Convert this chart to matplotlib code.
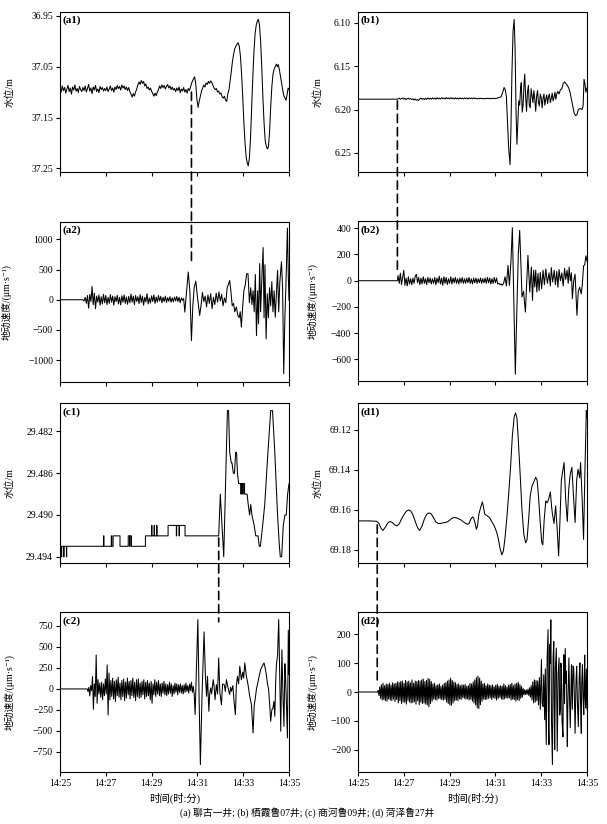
import numpy as np
import matplotlib
matplotlib.use('Agg')
import matplotlib.pyplot as plt
from matplotlib.patches import ConnectionPatch

plt.rcParams['font.family'] = ['Liberation Serif', 'Noto Sans CJK SC', 'DejaVu Sans']
plt.rcParams['axes.unicode_minus'] = True

# ---------------- data (time in minutes after 14:25) ----------------
tick_pos = [0, 2, 4, 6, 8, 10]
tick_labels = ['14:25', '14:27', '14:29', '14:31', '14:33', '14:35']
panel_names = ['(a1)', '(a2)', '(b1)', '(b2)', '(c1)', '(c2)', '(d1)', '(d2)']
caption = '(a) 聊古一井; (b) 栖霞鲁07井; (c) 商河鲁09井; (d) 菏泽鲁27井'

# (a1) water level, m
a1_noise_span = (0.0, 5.65)
a1_noise = [37.093, 37.100, 37.088, 37.097, 37.091, 37.102, 37.094, 37.087, 37.099, 37.092, 37.104, 37.090, 37.096, 37.086, 37.098, 37.093, 37.101, 37.089, 37.095, 37.099, 37.091,
            37.097, 37.088, 37.100, 37.093, 37.085, 37.098, 37.092, 37.103, 37.090, 37.096, 37.087, 37.099, 37.094, 37.101, 37.089, 37.095, 37.091, 37.098, 37.093, 37.097,
            37.090, 37.099, 37.094, 37.088, 37.097, 37.092, 37.100, 37.090, 37.095, 37.087, 37.093, 37.089, 37.096, 37.086, 37.092, 37.088, 37.095, 37.090, 37.097, 37.091,
            37.099, 37.104, 37.110, 37.103, 37.108, 37.100, 37.094, 37.086, 37.080, 37.085, 37.077, 37.083, 37.079, 37.088, 37.084, 37.093, 37.090, 37.096, 37.092, 37.098,
            37.103, 37.108, 37.102, 37.107, 37.100, 37.095, 37.088, 37.093, 37.086, 37.091, 37.087, 37.094, 37.089, 37.085, 37.092, 37.088, 37.095, 37.090, 37.096, 37.093,
            37.099, 37.092, 37.097, 37.090, 37.101, 37.094, 37.098, 37.091, 37.100, 37.095, 37.102, 37.093, 37.097]
a1_sig = [(5.70, 37.090), (5.75, 37.082), (5.82, 37.075), (5.88, 37.070), (5.93, 37.085), (5.98, 37.115), (6.03, 37.130),
          (6.08, 37.118), (6.13, 37.108), (6.18, 37.098), (6.23, 37.092), (6.28, 37.086), (6.33, 37.090), (6.38, 37.082),
          (6.43, 37.085), (6.48, 37.079), (6.53, 37.083), (6.58, 37.078), (6.63, 37.081), (6.68, 37.087), (6.73, 37.092),
          (6.78, 37.095), (6.83, 37.093), (6.88, 37.100), (6.93, 37.098), (6.98, 37.104), (7.03, 37.102), (7.08, 37.109),
          (7.13, 37.112), (7.18, 37.108), (7.23, 37.116), (7.28, 37.118), (7.33, 37.103), (7.38, 37.095), (7.43, 37.078),
          (7.48, 37.060), (7.53, 37.040), (7.58, 37.026), (7.63, 37.015), (7.68, 37.010), (7.73, 37.006), (7.78, 37.003),
          (7.83, 37.010), (7.88, 37.030), (7.93, 37.065), (7.98, 37.110), (8.03, 37.160), (8.08, 37.200), (8.13, 37.228),
          (8.18, 37.240), (8.22, 37.245), (8.27, 37.230), (8.32, 37.190), (8.37, 37.130), (8.42, 37.070), (8.47, 37.020),
          (8.52, 36.985), (8.57, 36.968), (8.62, 36.960), (8.66, 36.957), (8.71, 36.968), (8.76, 37.000), (8.81, 37.050),
          (8.86, 37.110), (8.91, 37.160), (8.96, 37.195), (9.01, 37.207), (9.06, 37.212), (9.10, 37.208), (9.15, 37.180),
          (9.20, 37.130), (9.25, 37.090), (9.30, 37.065), (9.35, 37.055), (9.40, 37.050), (9.45, 37.045), (9.50, 37.050),
          (9.53, 37.046), (9.58, 37.056), (9.63, 37.070), (9.68, 37.085), (9.73, 37.097), (9.78, 37.108), (9.83, 37.112),
          (9.87, 37.116), (9.92, 37.104), (9.96, 37.092), (10.0, 37.095)]

# (a2) ground velocity, um/s
a2_pre = [(0.0, 0), (1.0, 0)]
a2_noise_span = (1.05, 5.40)
a2_noise = [-20, 40, -60, 70, -140, 90, -30, 220, -80, 110, -150, 60, -40, 80, -90, 50, -70, 90, -50, 70,
            -80, 40, -60, 85, -40, 60, -90, 50, -30, 75, -70, 40, -85, 65, -40, 80, -60, 45, -75, 55,
            -50, 95, -40, 60, -80, 70, -30, 50, -65, 85, -45, 60, -90, 40, -35, 100, -70, 30, -55, 65,
            -30, 80, -60, 45, -40, 70, -20, 55, -50, 40, -30, 60, -45, 35, -25, 50, -40, 30, -35, 45,
            -20, 55, -30, 40, -50, 30, -10, 20]
a2_sig = [(5.45, -205), (5.52, 100), (5.60, 460), (5.67, 150), (5.74, -680), (5.80, -100), (5.86, 200), (5.93, 310),
          (6.00, 50), (6.10, -260), (6.17, -60), (6.22, 120), (6.28, -30), (6.34, 60), (6.40, -120), (6.46, 80),
          (6.52, -60), (6.58, 100), (6.64, -150), (6.70, 40), (6.76, -80), (6.82, 110), (6.88, -40), (6.94, 130),
          (7.00, -20), (7.06, 90), (7.12, -100), (7.18, 30), (7.24, -50), (7.30, 200), (7.36, 260), (7.41, 320),
          (7.46, 150), (7.52, -100), (7.58, -60), (7.63, -200), (7.70, -120), (7.76, -250), (7.82, -300), (7.87, -200),
          (7.92, -455), (7.97, -150), (8.03, 150), (8.09, 250), (8.15, 430), (8.21, 433), (8.27, -50), (8.33, 200),
          (8.38, -80), (8.43, 150), (8.48, -200), (8.53, 420), (8.58, -595), (8.63, 150), (8.67, -400), (8.72, 600),
          (8.76, -200), (8.82, 420), (8.87, 866), (8.91, -300), (8.95, 580), (9.00, -650), (9.05, 100), (9.10, -300),
          (9.15, 200), (9.20, -100), (9.25, 300), (9.30, -200), (9.35, 150), (9.40, -290), (9.45, 100), (9.50, 490),
          (9.55, -200), (9.60, 300), (9.67, 630), (9.72, 200), (9.77, -1230), (9.82, -300), (9.87, 300), (9.93, 1190),
          (9.97, 400), (10.0, -10)]

# (b1) water level, m
b1_pre = [(0.0, 6.1880), (1.72, 6.1880)]
b1_noise_span = (1.75, 6.25)
b1_noise = [6.1876, 6.1868, 6.1882, 6.1872, 6.1866, 6.1879, 6.1870, 6.1885, 6.1875, 6.1868, 6.1880, 6.1873, 6.1884, 6.1876, 6.1889,
            6.1878, 6.1892, 6.1885, 6.1893, 6.1876, 6.1868, 6.1880, 6.1872, 6.1884, 6.1870,
            6.1882, 6.1866, 6.1878, 6.1869, 6.1881, 6.1865, 6.1877, 6.1868, 6.1880, 6.1864, 6.1876, 6.1867, 6.1879, 6.1863, 6.1875,
            6.1866, 6.1878, 6.1862, 6.1874, 6.1865,
            6.1877, 6.1863, 6.1875, 6.1866, 6.1878, 6.1864, 6.1876, 6.1867, 6.1879, 6.1865, 6.1874, 6.1868, 6.1877, 6.1864, 6.1875,
            6.1866, 6.1878, 6.1865, 6.1874, 6.1867,
            6.1876, 6.1865, 6.1873, 6.1868, 6.1876, 6.1870, 6.1874, 6.1869, 6.1875, 6.1870, 6.1876, 6.1871, 6.1874, 6.1870, 6.1873,
            6.1871, 6.1875, 6.1870, 6.1873, 6.1869, 6.1874, 6.1870, 6.1866, 6.1862, 6.1858, 6.1852]
b1_sig = [(6.32, 6.1800), (6.38, 6.1745), (6.43, 6.1770), (6.48, 6.1850), (6.53, 6.2150), (6.58, 6.2450), (6.64, 6.2635),
          (6.68, 6.2200), (6.72, 6.1600), (6.77, 6.1100), (6.82, 6.0960), (6.86, 6.1300), (6.90, 6.2000), (6.94, 6.2400),
          (6.98, 6.2150), (7.02, 6.1900), (7.06, 6.1950), (7.10, 6.1750), (7.13, 6.1690), (7.17, 6.2030), (7.21, 6.1950),
          (7.25, 6.1700), (7.28, 6.1590), (7.32, 6.1850), (7.36, 6.2020), (7.40, 6.1800), (7.44, 6.1720), (7.48, 6.1950),
          (7.52, 6.1980), (7.56, 6.1760), (7.60, 6.1840), (7.64, 6.1920), (7.68, 6.1780), (7.72, 6.1880), (7.76, 6.2020),
          (7.80, 6.1850), (7.84, 6.1780), (7.88, 6.1920), (7.92, 6.1960), (7.96, 6.1820), (8.00, 6.1860), (8.04, 6.1980),
          (8.08, 6.1870), (8.12, 6.1820), (8.16, 6.1950), (8.20, 6.1880), (8.24, 6.1830), (8.28, 6.1930), (8.32, 6.1850),
          (8.36, 6.1820), (8.40, 6.1920), (8.44, 6.1870), (8.48, 6.1810), (8.52, 6.1900), (8.56, 6.1860), (8.60, 6.1800),
          (8.64, 6.1880), (8.68, 6.1820), (8.72, 6.1790), (8.78, 6.1820), (8.84, 6.1770), (8.90, 6.1760), (8.96, 6.1700),
          (9.02, 6.1680), (9.08, 6.1700), (9.14, 6.1720), (9.20, 6.1750), (9.26, 6.1800), (9.32, 6.1880), (9.38, 6.1960),
          (9.44, 6.2040), (9.50, 6.2070), (9.56, 6.2060), (9.62, 6.2000), (9.68, 6.1990), (9.73, 6.1990), (9.78, 6.2000),
          (9.83, 6.1960), (9.87, 6.1650), (9.91, 6.1700), (9.95, 6.1800), (10.0, 6.1750)]

# (b2) ground velocity, um/s
b2_pre = [(0.0, 0), (1.72, 0)]
b2_noise_span = (1.75, 6.30)
b2_noise = [40, -20, 58, -30, 25, 79, -35, 20, -40, 30, -25, 15, -30, 20, -20, 35, 48, -15, 25, -30,
            20, -25, 30, -20, 15, -30, 25, -15, 20, -25, 15, -20, 25, -30, 20, -15, 35, -25, 20, -35,
            30, -20, 25, -30, 15, -20, 30, -25, 20, -15, 25, -20, 15, -25, 20, -15, 25, -20, 15, -20,
            20, -15, 25, -20, 15, -25, 20, -15, 20, -20, 15, -15, 20, -20, 15, -15, 20, -20, 25, -15,
            20, -25, 15, -20, 25, -15, 20, -25, -20, -30, -25, -35]
b2_sig = [(6.36, -20), (6.42, 30), (6.48, -40), (6.55, 117), (6.61, -36), (6.68, 150), (6.74, 404), (6.80, -100),
          (6.87, -713), (6.94, -200), (7.00, 200), (7.06, 383), (7.12, 100), (7.16, -124), (7.23, -80), (7.31, -239),
          (7.37, 0), (7.42, 193), (7.50, -86), (7.57, 104), (7.62, -150), (7.67, 79), (7.72, -48), (7.76, 81),
          (7.81, -86), (7.86, 56), (7.91, -76), (7.96, 64), (8.02, -61), (8.08, 79), (8.14, -30), (8.20, 90),
          (8.27, -20), (8.34, 60), (8.40, -40), (8.44, 100), (8.50, -10), (8.57, 80), (8.62, -30), (8.68, 70),
          (8.73, -50), (8.78, 85), (8.84, 0), (8.90, 60), (8.96, -40), (9.02, 95), (9.07, 10), (9.13, 80),
          (9.18, -20), (9.22, 104), (9.27, 0), (9.32, 60), (9.36, -137), (9.42, 0), (9.48, 50), (9.56, -264),
          (9.62, -80), (9.68, -50), (9.75, -100), (9.80, -20), (9.85, 114), (9.90, 120), (9.95, 190), (10.0, 150)]

# (c1) water level, m (quantised steps)
c1_pts = [(0.00, 29.493), (0.06, 29.493), (0.06, 29.494), (0.075, 29.494), (0.075, 29.493), (0.16, 29.493),
          (0.16, 29.494), (0.175, 29.494), (0.175, 29.493), (0.28, 29.493), (0.28, 29.494), (0.295, 29.494),
          (0.295, 29.493),
          (1.90, 29.493), (1.90, 29.492), (1.92, 29.492), (1.92, 29.493),
          (2.24, 29.493), (2.24, 29.492), (2.26, 29.492), (2.26, 29.493), (2.32, 29.493), (2.32, 29.492),
          (2.62, 29.492), (2.62, 29.493),
          (2.98, 29.493), (2.98, 29.492), (3.04, 29.492), (3.04, 29.493), (3.06, 29.493), (3.06, 29.492),
          (3.12, 29.492), (3.12, 29.493),
          (3.73, 29.493), (3.73, 29.492), (4.00, 29.492), (4.00, 29.491), (4.015, 29.491), (4.015, 29.492),
          (4.11, 29.492), (4.11, 29.491), (4.125, 29.491), (4.125, 29.492), (4.22, 29.492), (4.22, 29.491),
          (4.235, 29.491), (4.235, 29.492),
          (4.72, 29.492), (4.72, 29.491), (5.08, 29.491), (5.08, 29.492), (5.095, 29.492), (5.095, 29.491),
          (5.20, 29.491), (5.20, 29.492), (5.215, 29.492), (5.215, 29.491), (5.46, 29.491), (5.46, 29.492),
          (6.93, 29.492), (7.00, 29.488), (7.15, 29.494), (7.31, 29.480), (7.36, 29.480), (7.41, 29.484),
          (7.48, 29.485), (7.51, 29.485), (7.57, 29.486), (7.62, 29.486), (7.67, 29.484), (7.71, 29.484),
          (7.75, 29.486), (7.80, 29.487),
          (7.90, 29.487), (7.90, 29.488), (7.915, 29.488), (7.915, 29.487), (7.98, 29.487), (7.98, 29.488),
          (7.995, 29.488), (7.995, 29.487), (8.06, 29.487), (8.06, 29.488), (8.17, 29.488), (8.22, 29.489),
          (8.28, 29.490), (8.33, 29.489), (8.38, 29.490), (8.48, 29.491), (8.55, 29.492), (8.65, 29.492),
          (8.70, 29.493), (8.75, 29.493), (8.85, 29.491), (8.94, 29.489), (9.08, 29.484), (9.20, 29.480),
          (9.28, 29.480), (9.38, 29.484), (9.50, 29.490), (9.58, 29.493), (9.62, 29.494), (9.68, 29.494),
          (9.75, 29.491), (9.82, 29.490), (9.88, 29.490), (9.94, 29.488), (10.0, 29.487)]

# (c2) ground velocity, um/s
c2_pre = [(0.0, 0), (1.19, 0)]
c2_noise_span = (1.22, 5.86)
c2_noise = [-30, 20, -83, 40, -20, 147, -242, 60, -90, 405, -171, 110, -60, 70, -100, 80, -130, 60, -80, 120,
            -60, 286, -310, 190, -130, 100, -90, 130, -120, 90, -150, 110, -80, 140, -100, 70, -130, 100, -90, 120,
            -140, 80, -110, 130, -70, 90, -120, 100, -80, 130, -100, 80, -140, 110, -90, 120, -110, 70, -100, 90,
            -70, 110, -120, 80, -90, 100, -80, 70, -130, 90, -171, 60, -70, 110, -90, 80, -60, 100, -80, 60,
            -90, 70, -50, 90, -70, 60, -80, 50, -60, 80, -50, 60, -90, 40, -60, 70, -40, 60, -70, 50,
            -40, 60, -50, 40, -60, 50, -40, 70, -30, 40, -50, 60, -20, 80, -40, 30, -60]
c2_sig = [(5.90, -305), (5.96, 250), (6.02, 826), (6.08, -200), (6.13, -901), (6.20, -100), (6.29, 679), (6.35, 150),
          (6.40, -87), (6.44, 151), (6.50, -266), (6.54, -50), (6.58, 12), (6.62, -60), (6.69, 111), (6.73, 30),
          (6.77, -127), (6.83, 52), (6.88, -60), (6.93, 369), (6.98, -40), (7.05, -187), (7.10, 60), (7.17, 52),
          (7.22, -30), (7.27, 111), (7.33, 20), (7.41, -67), (7.45, 20), (7.49, -28), (7.55, 40), (7.60, -147),
          (7.66, -306), (7.70, 40), (7.75, 151), (7.80, 60), (7.85, 270), (7.92, 111), (7.98, 200), (8.02, 130),
          (8.07, 310), (8.14, 150), (8.21, 52), (8.28, -80), (8.36, -187), (8.43, -524), (8.48, -200), (8.53, -107),
          (8.58, 0), (8.65, 91), (8.70, 150), (8.76, 230), (8.83, 270), (8.91, 310), (8.96, 250), (9.01, 171),
          (9.06, 60), (9.11, -8), (9.16, -200), (9.20, -385), (9.25, -250), (9.30, -226), (9.34, -150), (9.38, -326),
          (9.42, 100), (9.45, 290), (9.50, 400), (9.55, 826), (9.60, 100), (9.64, -504), (9.69, 468), (9.74, -100),
          (9.78, -445), (9.82, 300), (9.85, 131), (9.89, -200), (9.93, -584), (9.97, 700), (10.0, 171)]

# (d1) water level, m
d1_sig = [(0.00, 69.1655), (0.50, 69.1655), (0.80, 69.1657), (0.90, 69.1665), (1.00, 69.1690), (1.09, 69.1703),
          (1.20, 69.1685), (1.30, 69.1665), (1.40, 69.1658), (1.50, 69.1663), (1.60, 69.1675), (1.70, 69.1680),
          (1.80, 69.1670), (1.90, 69.1645), (2.00, 69.1625), (2.10, 69.1608), (2.20, 69.1600), (2.30, 69.1605),
          (2.40, 69.1625), (2.50, 69.1658), (2.60, 69.1688), (2.69, 69.1703), (2.80, 69.1680), (2.90, 69.1645),
          (3.00, 69.1622), (3.10, 69.1615), (3.20, 69.1620), (3.30, 69.1640), (3.40, 69.1660), (3.50, 69.1668),
          (3.60, 69.1668), (3.70, 69.1665), (3.80, 69.1663), (3.90, 69.1660), (4.00, 69.1652), (4.10, 69.1642),
          (4.20, 69.1638), (4.30, 69.1640), (4.40, 69.1645), (4.50, 69.1650), (4.60, 69.1660), (4.70, 69.1667),
          (4.78, 69.1672), (4.85, 69.1668), (4.92, 69.1648), (5.00, 69.1635), (5.05, 69.1640), (5.12, 69.1670),
          (5.17, 69.1697), (5.22, 69.1680), (5.28, 69.1620), (5.35, 69.1590), (5.43, 69.1560), (5.48, 69.1585),
          (5.53, 69.1620), (5.58, 69.1625), (5.65, 69.1630), (5.75, 69.1640), (5.85, 69.1660), (5.95, 69.1680),
          (6.05, 69.1710), (6.12, 69.1740), (6.20, 69.1790), (6.28, 69.1825), (6.35, 69.1805), (6.42, 69.1740),
          (6.50, 69.1640), (6.58, 69.1520), (6.66, 69.1390), (6.74, 69.1230), (6.82, 69.1135), (6.88, 69.1115),
          (6.94, 69.1140), (7.00, 69.1250), (7.08, 69.1420), (7.16, 69.1600), (7.24, 69.1720), (7.32, 69.1765),
          (7.38, 69.1750), (7.45, 69.1650), (7.52, 69.1530), (7.60, 69.1480), (7.68, 69.1460), (7.76, 69.1437),
          (7.82, 69.1450), (7.88, 69.1530), (7.95, 69.1650), (8.02, 69.1760), (8.07, 69.1775), (8.13, 69.1650),
          (8.20, 69.1555), (8.26, 69.1565), (8.33, 69.1545), (8.40, 69.1510), (8.45, 69.1580), (8.49, 69.1620),
          (8.56, 69.1668), (8.63, 69.1580), (8.70, 69.1700), (8.76, 69.1830), (8.82, 69.1650), (8.88, 69.1450),
          (9.00, 69.1363), (9.07, 69.1550), (9.14, 69.1658), (9.20, 69.1500), (9.27, 69.1420), (9.34, 69.1387),
          (9.41, 69.1530), (9.48, 69.1663), (9.55, 69.1450), (9.61, 69.1397), (9.68, 69.1440), (9.72, 69.1363),
          (9.79, 69.1550), (9.85, 69.1747), (9.91, 69.1400), (9.97, 69.1103), (10.0, 69.1140)]

# (d2) ground velocity, um/s
d2_pre = [(0.0, 0), (0.86, 0)]
d2_noise_span = (0.88, 7.88)
d2_noise = [5, -12, 18, -22, 25, -28, 30, -26, 22, -30, 28, -32, 26, -24, 30, -28, 24, -30, 32, -25,
            28, -33, 30, -26, 35, -38, 33, -30, 36, -40, 38, -34, 30, -36, 40, -42, 35, -30, 38, -35,
            32, -38, 42, -36, 30, -34, 38, -42, 36, -30, 40, -44, 38, -35, 42, -40, 45, -38, 36, -42,
            40, -45, 47, -51, 44, -40, 36, -32, 28, -25, 30, -26, 22, -28, 25, -22, 28, -24, 20, -26,
            24, -28, 30, -26, 32, -35, 38, -40, 42, -45, 48, -46, 40, -38, 35, -30, 32, -28, 26, -30,
            28, -24, 22, -26, 25, -20, 24, -22, 26, -25, 20, -24, 22, -28, 30, -25, 28, -32, 35, -38,
            42, -45, 50, -55, 55, -57, 48, -44, 38, -32, 28, -25, 30, -26, 22, -25, 28, -22, 24, -20,
            22, -26, 25, -20, 18, -22, 24, -28, 26, -22, 20, -18, 22, -24, 20, -26, 28, -24, 22, -20,
            18, -22, 24, -20, 26, -28, 30, -25, 22, -26, 28, -32, 30, -26, 34, -30, 26, -22, 20, -18,
            12, -10, 8, -9, 7, -8, 10, -12, 15, -18, 22, -28, 35, -38, 42, -35, 40, -30, 38, -45]
d2_sig = [(7.92, 50), (7.96, -60), (8.01, 112), (8.04, -40), (8.08, -50), (8.11, 60), (8.15, -96), (8.18, 80),
          (8.22, -182), (8.26, 120), (8.30, 216), (8.32, -120), (8.34, -182), (8.37, 164), (8.40, 100), (8.42, 250),
          (8.45, -100), (8.49, -251), (8.52, 120), (8.55, 175), (8.57, -60), (8.59, -200), (8.62, 80), (8.66, 152),
          (8.68, -50), (8.70, -205), (8.74, 60), (8.78, 118), (8.81, -80), (8.84, -55), (8.86, 100), (8.88, 83),
          (8.91, -100), (8.95, -155), (8.97, 50), (8.99, 129), (9.02, -40), (9.05, 151), (9.08, 30), (9.10, 71),
          (9.14, -189), (9.16, -60), (9.19, 40), (9.21, 118), (9.24, -30), (9.27, -124), (9.30, 20), (9.32, 95),
          (9.36, -60), (9.39, 90), (9.42, 83), (9.45, -20), (9.48, -143), (9.52, 40), (9.55, 89), (9.58, -30),
          (9.62, -120), (9.66, 50), (9.69, 101), (9.72, -40), (9.75, -143), (9.77, 30), (9.80, 95), (9.83, -20),
          (9.86, -78), (9.88, 40), (9.90, 128), (9.92, -20), (9.94, -55), (9.97, 80), (10.0, -60)]

# dashed arrival markers: time, value in upper panel, value in lower panel
dash_t = [5.74, 1.72, 6.93, 0.84]
dash_upper = [37.100, 6.190, 29.4922, 69.1675]
dash_lower = [600, 50, 800, 25]

# y-axis settings
yticks = {
    'a1': [36.95, 37.05, 37.15, 37.25], 'a2': [-1000, -500, 0, 500, 1000],
    'b1': [6.10, 6.15, 6.20, 6.25], 'b2': [-600, -400, -200, 0, 200, 400],
    'c1': [29.482, 29.486, 29.490, 29.494], 'c2': [-750, -500, -250, 0, 250, 500, 750],
    'd1': [69.12, 69.14, 69.16, 69.18], 'd2': [-200, -100, 0, 100, 200],
}
yfmt = {'a1': '{:.2f}', 'b1': '{:.2f}', 'c1': '{:.3f}', 'd1': '{:.2f}',
        'a2': '{:.0f}', 'b2': '{:.0f}', 'c2': '{:.0f}', 'd2': '{:.0f}'}
ylims = {
    'a1': (37.2565, 36.942), 'a2': (-1360, 1295),
    'b1': (6.2723, 6.087), 'b2': (-764, 455),
    'c1': (29.4946, 29.4793), 'c2': (-993, 913),
    'd1': (69.1867, 69.1067), 'd2': (-278, 276),
}


def unzip(pairs):
    return [p[0] for p in pairs], [p[1] for p in pairs]


def build(pre=None, noise=None, span=None, sig=None):
    ts, vs = [], []
    if pre:
        t, v = unzip(pre); ts += t; vs += v
    if noise:
        ts += list(np.linspace(span[0], span[1], len(noise))); vs += list(noise)
    if sig:
        t, v = unzip(sig); ts += t; vs += v
    return np.array(ts), np.array(vs)


series = {
    'a1': build(noise=a1_noise, span=a1_noise_span, sig=a1_sig),
    'a2': build(pre=a2_pre, noise=a2_noise, span=a2_noise_span, sig=a2_sig),
    'b1': build(pre=b1_pre, noise=b1_noise, span=b1_noise_span, sig=b1_sig),
    'b2': build(pre=b2_pre, noise=b2_noise, span=b2_noise_span, sig=b2_sig),
    'c1': build(sig=c1_pts),
    'c2': build(pre=c2_pre, noise=c2_noise, span=c2_noise_span, sig=c2_sig),
    'd1': build(sig=d1_sig),
    'd2': build(pre=d2_pre, noise=d2_noise, span=d2_noise_span, sig=d2_sig),
}

# ---------------- figure ----------------
W, H = 607, 824
fig = plt.figure(figsize=(W / 100, H / 100), dpi=100)

col_left = {'a': 60, 'c': 60, 'b': 358, 'd': 358}
rows = {'a1': (11.7, 171.7), 'a2': (221.7, 381.7), 'b1': (11.7, 172.2), 'b2': (221.0, 381.0),
        'c1': (403.3, 563.0), 'c2': (612.3, 772.3), 'd1': (403.3, 563.3), 'd2': (612.3, 772.3)}
label_x = {'a1': -0.197, 'a2': -0.21, 'b1': -0.155, 'b2': -0.178,
           'c1': -0.197, 'c2': -0.197, 'd1': -0.155, 'd2': -0.178}

wl_label = '水位/m'
vel_label = '地动速度/(μm·s\u207b\u00b9)'

axes = {}
for key, name in zip(['a1', 'a2', 'b1', 'b2', 'c1', 'c2', 'd1', 'd2'], panel_names):
    top, bot = rows[key]
    x0 = col_left[key[0]]
    ax = fig.add_axes([x0 / W, 1 - bot / H, 229 / W, (bot - top) / H])
    axes[key] = ax
    t, v = series[key]
    ax.plot(t, v, color='black', lw=0.75)
    ax.set_xlim(0, 10)
    ax.set_ylim(*ylims[key])
    ax.set_xticks(tick_pos)
    if key in ('c2', 'd2'):
        ax.set_xticklabels(tick_labels, fontsize=7)
        ax.set_xlabel('时间(时:分)', fontsize=7.5, labelpad=3)
    else:
        ax.set_xticklabels([])
    ax.set_yticks(yticks[key])
    ax.set_yticklabels([yfmt[key].format(y).replace('-', '\u2212') for y in yticks[key]], fontsize=7)
    ax.tick_params(direction='out', length=3, width=0.8, pad=2)
    for s in ax.spines.values():
        s.set_linewidth(0.8)
    ax.set_ylabel(wl_label if key.endswith('1') else vel_label, fontsize=7)
    ax.yaxis.set_label_coords(label_x[key], 0.5)
    ax.text(0.012, 0.975, name, transform=ax.transAxes, ha='left', va='top',
            fontsize=8, fontweight='bold')

for (upper, lower), t0, vu, vl in zip([('a1', 'a2'), ('b1', 'b2'), ('c1', 'c2'), ('d1', 'd2')],
                                      dash_t, dash_upper, dash_lower):
    con = ConnectionPatch(xyA=(t0, vu), coordsA=axes[upper].transData,
                          xyB=(t0, vl), coordsB=axes[lower].transData,
                          color='black', lw=1.2, linestyle=(0, (5, 3)))
    fig.add_artist(con)

fig.text(307 / W, 1 - 813 / H, caption, ha='center', va='center', fontsize=7)

fig.savefig('out.png', dpi=100)
